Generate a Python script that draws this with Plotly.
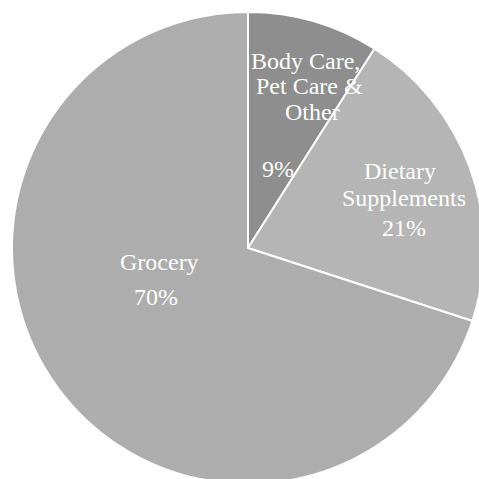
import plotly.graph_objects as go

values = [9, 21, 70]
slice_labels = ["Body Care, Pet Care & Other", "Dietary Supplements", "Grocery"]
colors = ["#8e8e8e", "#b5b5b5", "#adadad"]
# label lines as shown in the chart (category names wrapped, then percentages)
label_lines = ["Body Care,", "Pet Care &", "Other", "9%",
               "Dietary", "Supplements", "21%",
               "Grocery", "70%"]
# (x centre, baseline) in pixels for each label line
line_pos = [(301, 62), (305, 88), (308, 115), (273, 173),
            (398, 175), (402, 203), (402, 233),
            (151, 268), (148, 304)]

W = H = 484  # slightly larger than the 479 window: the pie is clipped at right/bottom
fig = go.Figure(go.Pie(
    values=values, labels=slice_labels,
    sort=False, direction="clockwise", rotation=0,
    marker=dict(colors=colors, line=dict(color="white", width=2)),
    textinfo="none", hoverinfo="label+percent", showlegend=False,
))

font = dict(family="Liberation Serif, Times New Roman, serif", size=24, color="white")
ann = []
for txt, (x, yb) in zip(label_lines, line_pos):
    yc = yb - 12
    ann.append(dict(text=txt, x=x / W, y=1 - yc / H, xref="paper", yref="paper",
                    showarrow=False, font=font, xanchor="center", yanchor="middle"))

fig.update_layout(width=W, height=H, margin=dict(l=12, r=0, t=12, b=0, pad=0),
                  paper_bgcolor="white", plot_bgcolor="white", annotations=ann)
fig.write_html("out.html", config={"displayModeBar": False},
               post_script="document.body.style.margin='0';document.body.style.overflow='hidden';"
                           "document.documentElement.style.overflow='hidden';")
